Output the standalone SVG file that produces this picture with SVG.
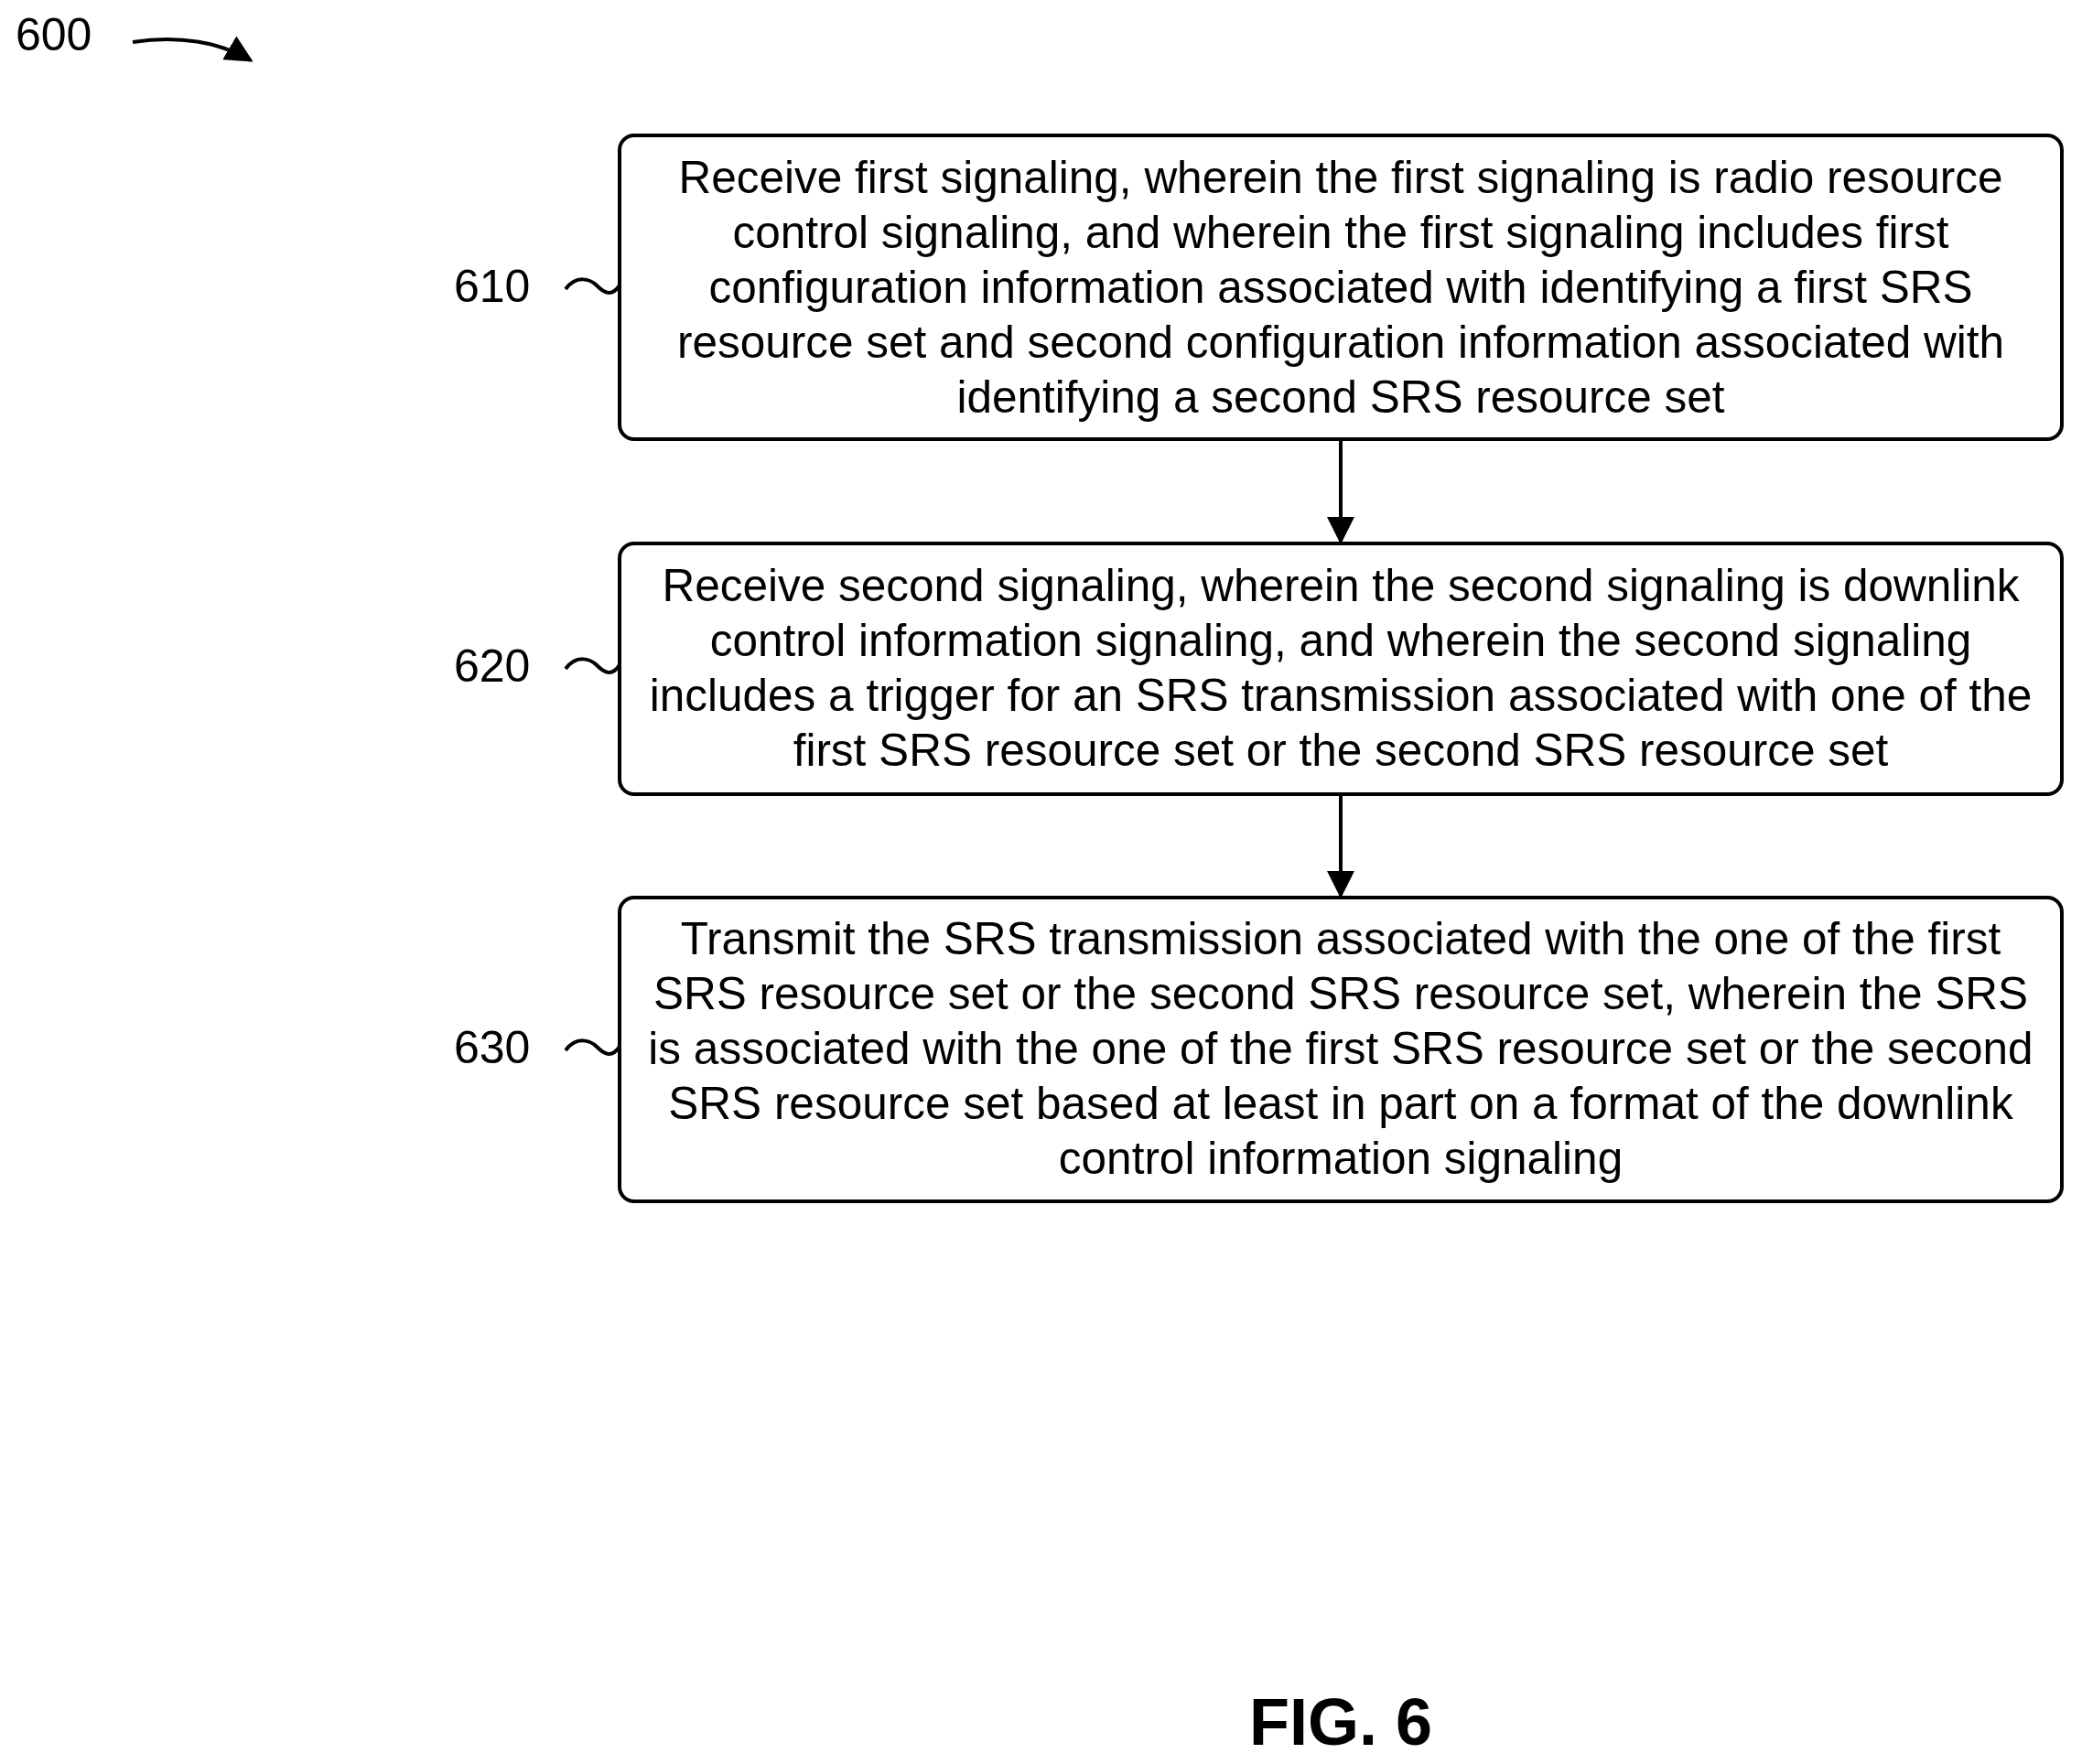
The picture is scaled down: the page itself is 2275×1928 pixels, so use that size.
<svg xmlns="http://www.w3.org/2000/svg" width="2275" height="1928" viewBox="0 0 2275 1928">
<style>
text{font-family:"Liberation Sans",Arial,sans-serif;font-size:49.5px;fill:#000;dominant-baseline:central}
.c{text-anchor:middle}
.box{fill:#fff;stroke:#000;stroke-width:4}
.ln{fill:none;stroke:#000;stroke-width:4}
</style>
<defs>
<marker id="ah2" viewBox="0 0 10 10" refX="9" refY="5" markerWidth="30" markerHeight="30" orient="auto" markerUnits="userSpaceOnUse"><path d="M0,0L10,5L0,10z"/></marker></defs>
<rect width="2275" height="1928" fill="#fff"/>
<g id="label600"><text x="17" y="38" style="font-size:50px">600</text><path class="ln" d="M145,46 C195,38 240,46 274,66" marker-end="url(#ah2)"/></g>
<g id="n610">
<rect class="box" x="677" y="148" width="1576" height="332" rx="16"/>
<text class="c" x="1465" y="193">Receive first signaling, wherein the first signaling is radio resource</text>
<text class="c" x="1465" y="253">control signaling, and wherein the first signaling includes first</text>
<text class="c" x="1465" y="313">configuration information associated with identifying a first SRS</text>
<text class="c" x="1465" y="373">resource set and second configuration information associated with</text>
<text class="c" x="1465" y="433">identifying a second SRS resource set</text>
<text x="496" y="313" style="font-size:50px">610</text><path class="ln" d="M618,316 C630,300 645,305 652,312 C660,320 668,325 677,312"/>
</g>
<g id="n620">
<rect class="box" x="677" y="594" width="1576" height="274" rx="16"/>
<text class="c" x="1465" y="639">Receive second signaling, wherein the second signaling is downlink</text>
<text class="c" x="1465" y="699">control information signaling, and wherein the second signaling</text>
<text class="c" x="1465" y="759">includes a trigger for an SRS transmission associated with one of the</text>
<text class="c" x="1465" y="819">first SRS resource set or the second SRS resource set</text>
<text x="496" y="728" style="font-size:50px">620</text><path class="ln" d="M618,731 C630,715 645,720 652,727 C660,735 668,740 677,727"/>
</g>
<g id="n630">
<rect class="box" x="677" y="981" width="1576" height="332" rx="16"/>
<text class="c" x="1465" y="1025">Transmit the SRS transmission associated with the one of the first</text>
<text class="c" x="1465" y="1085">SRS resource set or the second SRS resource set, wherein the SRS</text>
<text class="c" x="1465" y="1145">is associated with the one of the first SRS resource set or the second</text>
<text class="c" x="1465" y="1205">SRS resource set based at least in part on a format of the downlink</text>
<text class="c" x="1465" y="1265">control information signaling</text>
<text x="496" y="1145" style="font-size:50px">630</text><path class="ln" d="M618,1148 C630,1132 645,1137 652,1144 C660,1152 668,1157 677,1144"/>
</g>
<g id="connectors">
<line class="ln" x1="1465" y1="482" x2="1465" y2="592" marker-end="url(#ah2)"/>
<line class="ln" x1="1465" y1="870" x2="1465" y2="979" marker-end="url(#ah2)"/>
</g>
<text class="c" x="1465" y="1882" style="font-size:72px;font-weight:bold">FIG. 6</text>
</svg>
